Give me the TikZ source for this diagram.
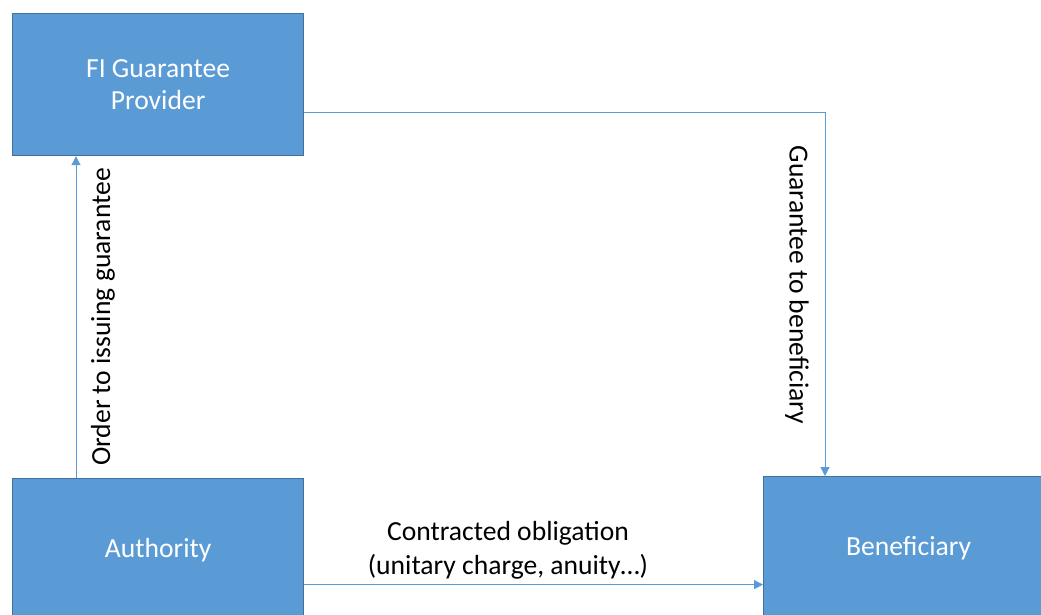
\documentclass[tikz,border=0pt]{standalone}
\usepackage{fontspec}
\setmainfont{Carlito}
\usetikzlibrary{arrows.meta}
\definecolor{boxblue}{HTML}{5B9BD5}
\definecolor{boxedge}{HTML}{41719C}
\definecolor{lineblue}{HTML}{5B9BD5}
\tikzset{
  entity/.style={draw=boxedge, line width=1.2pt, fill=boxblue, text=white,
    font=\fontsize{27.6}{32}\selectfont, align=center, inner sep=0pt,
    minimum width=291pt, minimum height=142pt, anchor=north west},
  flow/.style={draw=lineblue, line width=1pt, -{Triangle[length=9pt,width=9pt]}},
  flowlabel/.style={font=\fontsize{27.6}{34}\selectfont, align=center, text=black, inner sep=0pt}
}
\begin{document}
\begin{tikzpicture}[x=1pt,y=-1pt]
\useasboundingbox[fill=white] (0,0) rectangle (1041,614);
\node[entity] (fi) at (12,13) {FI Guarantee\\Provider};
\node[entity, minimum height=144pt] (auth) at (12,478) {Authority};
\node[entity, minimum width=290pt, minimum height=144pt] (ben) at (763,476) {Beneficiary};
% Authority -> FI
\draw[flow] ([xshift=64pt]auth.north west) -- ([xshift=64pt]fi.south west);
\node[flowlabel, rotate=90] (lab1) at (103,317) {Order to issuing guarantee};
% FI -> Beneficiary
\coordinate (fiout) at ([yshift=-28pt]fi.east);
\coordinate (benin) at ([xshift=62pt]ben.north west);
\draw[flow] (fiout) -| (benin);
\node[flowlabel, rotate=-90] (lab2) at (797,285) {Guarantee to beneficiary};
% Authority -> Beneficiary
\coordinate (authout) at ([yshift=-34pt]auth.east);
\draw[flow] (authout) -- (authout -| ben.west);
\node[flowlabel] (lab3) at (508,550) {Contracted obligation\\(unitary charge, anuity…)};
\end{tikzpicture}
\end{document}
